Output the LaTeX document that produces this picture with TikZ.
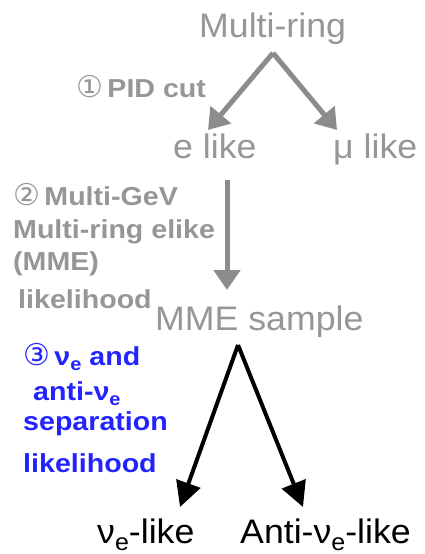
\documentclass[tikz,border=0pt]{standalone}
\usepackage{fontspec}
\setmainfont[FakeStretch=1.05]{Liberation Sans}
\newfontfamily\lblfont[FakeStretch=1.1]{Liberation Sans}
\newfontfamily\symfont{DejaVu Sans}
\usetikzlibrary{arrows.meta}
\definecolor{txtgray}{RGB}{150,150,150}
\definecolor{arrgray}{RGB}{140,140,140}
\definecolor{lblblue}{RGB}{35,35,255}
\newcommand{\circnum}[1]{{\symfont\mdseries\fontsize{30}{32}\selectfont #1}}
\newcommand{\subE}{\raisebox{-0.22em}{\fontsize{0.7em}{1em}\selectfont e}}
\tikzset{
  big/.style={font=\fontsize{34}{40}\selectfont, inner sep=0pt, anchor=base west},
  lbl/.style={font=\lblfont\fontsize{26}{32}\selectfont\bfseries, inner sep=0pt, anchor=base west},
  grayarr/.style={draw=arrgray, line width=5pt, -{Triangle[length=20pt,width=26pt]}},
  blackarr/.style={draw=black, line width=4pt, -{Triangle[length=25pt,width=25pt]}},
}
\begin{document}
\begin{tikzpicture}[x=1pt,y=-1pt]
\useasboundingbox (0,0) rectangle (425,554);
% gray part
\node[big, text=txtgray] (mr) at (199,37) {Multi-ring};
\node[lbl, text=txtgray] (pid) at (76,97) {\circnum{①}\,PID cut};
\node[big, text=txtgray] (el) at (173,158) {e like};
\node[big, text=txtgray] (ml) at (333,158) {μ like};
\node[lbl, text=txtgray] (l2a) at (13,205) {\circnum{②}\,Multi-GeV};
\node[lbl, text=txtgray] (l2b) at (13,238) {Multi-ring elike};
\node[lbl, text=txtgray] (l2c) at (13,270) {(MME)};
\node[lbl, text=txtgray] (l2d) at (18,308) {likelihood};
\node[big, text=txtgray] (mme) at (155,330) {MME sample};
\coordinate (a1) at (273,53);
\coordinate (t1l) at (208,130);
\coordinate (t1r) at (337,130);
\coordinate (d0) at (227,180);
\coordinate (d1) at (227,290);
\draw[grayarr] (a1) -- (t1l);
\draw[grayarr] (a1) -- (t1r);
\draw[grayarr] (d0) -- (d1);
% blue label
\node[lbl, text=lblblue] (l3a) at (23,365) {\circnum{③}\,ν\subE{} and};
\node[lbl, text=lblblue] (l3b) at (33,400) {anti-ν\subE};
\node[lbl, text=lblblue] (l3c) at (23,430) {separation};
\node[lbl, text=lblblue] (l3d) at (23,472) {likelihood};
% black part
\coordinate (a2) at (238,345);
\coordinate (t2l) at (180,507);
\coordinate (t2r) at (303,507);
\draw[blackarr] (a2) -- (t2l);
\draw[blackarr] (a2) -- (t2r);
\node[big, text=black] (nl) at (97,543) {ν\subE-like};
\node[big, text=black] (al) at (240,543) {Anti-ν\subE-like};
\end{tikzpicture}
\end{document}
